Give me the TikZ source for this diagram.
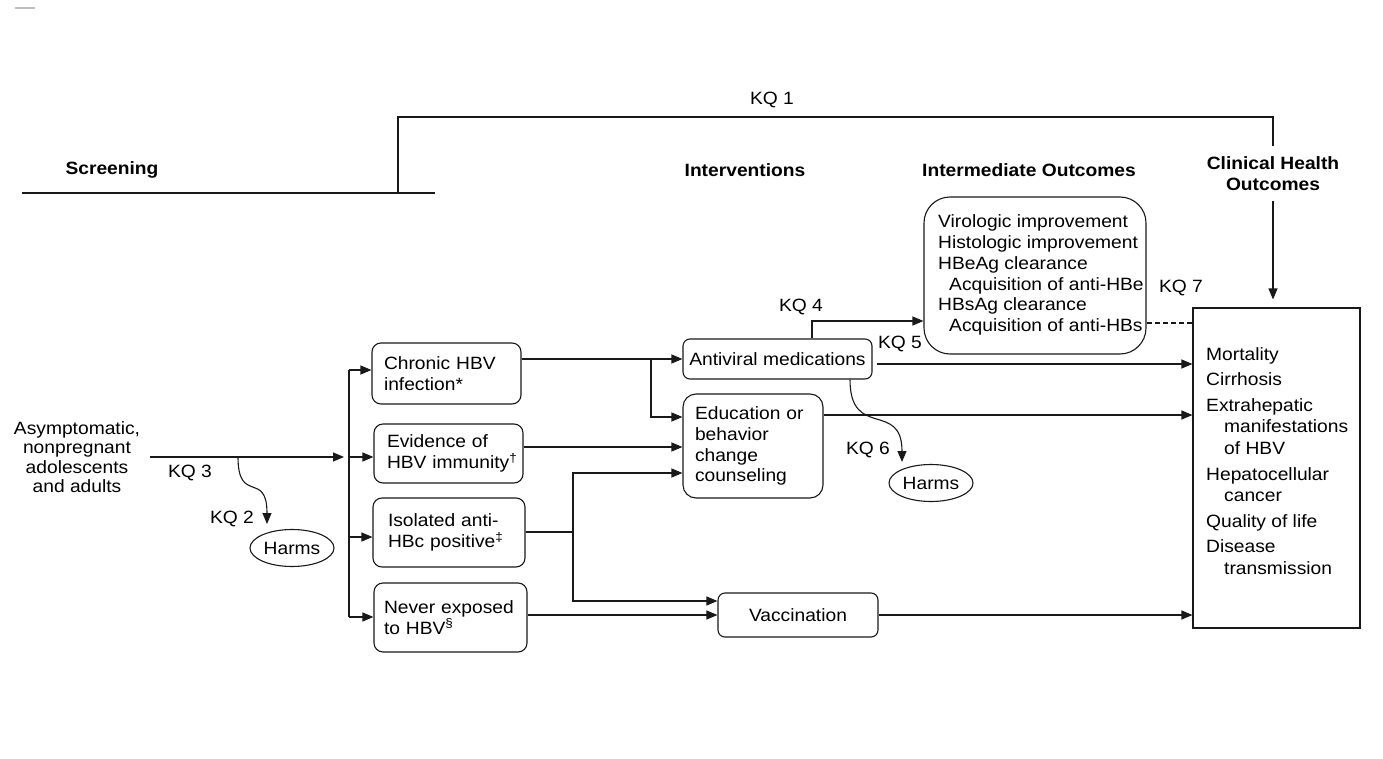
\documentclass[tikz,border=0pt]{standalone}
\usepackage{fontspec}
\setmainfont{Liberation Sans}[FakeStretch=1.08]
\usetikzlibrary{arrows.meta,shapes.geometric}
\begin{document}
\begin{tikzpicture}[x=1pt,y=-1pt,
  every node/.style={font=\fontsize{17.8}{20.8}\selectfont, text=black},
  ln/.style={line width=1.1pt, draw=black!90},
  arr/.style={ln, -{Triangle[length=11pt,width=9pt]}},
  rbox/.style={draw, ln, rounded corners=9pt, align=left, inner ysep=0pt},
  head/.style={font=\fontsize{17.8}{21}\selectfont\bfseries, inner sep=0pt},
  kq/.style={inner sep=0pt},
  ell/.style={draw, ln, ellipse, minimum width=84pt, minimum height=37pt, inner sep=0pt}
]
\useasboundingbox (0,0) rectangle (1383,759);
\draw[black!25, line width=1.5pt] (15,8) -- (35,8);

% headings
\node[head] (scr) at (112,170) {Screening};
\node[head] (intv) at (745,170) {Interventions};
\node[head] (intout) at (1029,170) {Intermediate Outcomes};
\node[head, align=center, inner ysep=10pt] (clinhead) at (1273,173.5) {Clinical Health\\Outcomes};

% population
\node[align=center, inner sep=0pt, font=\fontsize{17.8}{19.4}\selectfont] (pop) at (77,457) {Asymptomatic,\\nonpregnant\\adolescents\\and adults};

% screening result boxes
\node[rbox, minimum height=61pt, text width=125pt, inner xsep=12pt] (chronic) at (446.5,373.5) {Chronic HBV\\infection*};
\node[rbox, minimum height=59pt, text width=123pt, inner xsep=13pt] (evidence) at (448.5,453.5) {Evidence of\\HBV~immunity\textsuperscript{†}};
\node[rbox, minimum height=69pt, text width=122pt, inner xsep=15pt] (isolated) at (449,532.5) {Isolated anti-\\HBc~positive\textsuperscript{‡}};
\node[rbox, minimum height=69pt, text width=133pt, inner xsep=10pt] (never) at (450.5,617.5) {Never~exposed\\to HBV\textsuperscript{§}};

% interventions
\node[rbox, rounded corners=7pt, minimum width=189pt, minimum height=40pt, align=center, inner xsep=4pt] (antiviral) at (777.5,359) {Antiviral medications};
\node[rbox, rounded corners=13pt, minimum height=104pt, text width=116pt, inner xsep=12pt] (education) at (753,446) {Education or\\behavior\\change\\counseling};
\node[rbox, rounded corners=7pt, minimum width=160pt, minimum height=44pt, align=center] (vaccination) at (798,615) {Vaccination};

% intermediate outcomes
\node[draw, ln, rounded corners=26pt, minimum width=222pt, minimum height=157pt] (intermediate) at (1035,275.5) {};
\node[anchor=west, align=left, inner sep=0pt] (inttext) at (938,275) {Virologic improvement\\Histologic improvement\\HBeAg clearance\\\hspace*{11pt}Acquisition of anti-HBe\\HBsAg clearance\\\hspace*{11pt}Acquisition of anti-HBs};

% clinical outcomes
\node[draw, ln, minimum width=167pt, minimum height=320pt] (clinical) at (1276.5,468) {};
\node[anchor=west, align=left, inner sep=0pt, font=\fontsize{17.8}{21.6}\selectfont] (clintext) at (1206,461) {Mortality\\[4pt]Cirrhosis\\[4pt]Extrahepatic\\\hspace*{18pt}manifestations\\\hspace*{18pt}of HBV\\[4pt]Hepatocellular\\\hspace*{18pt}cancer\\[4pt]Quality of life\\[4pt]Disease\\\hspace*{18pt}transmission};

% harms
\node[ell] (harms1) at (292,548) {Harms};
\node[ell] (harms2) at (931,483) {Harms};

% KQ labels
\node[kq] (kq1) at (772,100) {KQ 1};
\node[kq] (kq2) at (232,519) {KQ 2};
\node[kq] (kq3) at (190,473) {KQ 3};
\node[kq] (kq4) at (801,307) {KQ 4};
\node[kq] (kq5) at (900,344) {KQ 5};
\node[kq] (kq6) at (868,450) {KQ 6};
\node[kq] (kq7) at (1181,288) {KQ 7};

% helper coordinates
\coordinate (sbl) at (22,193);
\coordinate (sbr) at (435,193);
\coordinate (sbj) at (398,193);
\coordinate (kqtl) at (398,117);
\coordinate (b1) at (349,370);
\coordinate (b2) at (349,457);
\coordinate (b3) at (349,537);
\coordinate (b4) at (349,617);
\coordinate (popout) at ([xshift=10pt]pop.east);
\coordinate (br) at (651,359);
\coordinate (e1) at (0,417);
\coordinate (e2) at (0,447);
\coordinate (e3) at (0,473);
\coordinate (iso) at (573,532);
\coordinate (v1) at (0,601);
\coordinate (v2) at (0,615);
\coordinate (x812) at (812,0);
\coordinate (x850) at (850,0);
\coordinate (i1) at (0,321);
\coordinate (c0) at (0,323);
\coordinate (c1) at (0,364);
\coordinate (c2) at (0,415);
\coordinate (avout) at ([xshift=4pt]antiviral.east);
\coordinate (kq2s) at (238,457);
\coordinate (kq2e) at (267,524);
\coordinate (kq6e) at (902,462);

% screening bar and KQ1
\draw[ln] (sbl) -- (sbr);
\draw[ln] (sbj) -- (kqtl) -| (clinhead.north);
\draw[arr, shorten >=8pt] (clinhead.south) -- (clinhead.south |- clinical.north);

% population to bus
\draw[arr, shorten >=5pt] (popout |- b2) -- (b2);
\draw[ln] (b1) -- (b4);
\draw[arr] (b1) -- (b1 -| chronic.west);
\draw[arr] (b2) -- (b2 -| evidence.west);
\draw[arr] (b3) -- (b3 -| isolated.west);
\draw[arr] (b4) -- (b4 -| never.west);

% KQ2 harms
\draw[arr] (kq2s) .. controls (238,505) and (267,470) .. (kq2e);

% to interventions
\draw[arr] (chronic.east |- antiviral.west) -- (antiviral.west);
\draw[arr] (br) |- (education.west |- e1);
\draw[arr] (evidence.east |- e2) -- (education.west |- e2);
\draw[ln] (isolated.east |- iso) -- (iso);
\draw[arr] (iso) |- (education.west |- e3);
\draw[arr] (iso) |- (vaccination.west |- v1);
\draw[arr] (never.east |- v2) -- (vaccination.west |- v2);

% to outcomes
\draw[arr] (antiviral.north -| x812) |- (intermediate.west |- i1);
\draw[arr] (avout |- c1) -- (clinical.west |- c1);
\draw[arr] (education.east |- c2) -- (clinical.west |- c2);
\draw[arr] (vaccination.east) -- (clinical.west |- vaccination.east);
\draw[ln, dash pattern=on 5pt off 3pt] (intermediate.east |- c0) -- (clinical.west |- c0);

% KQ6 harms
\draw[arr] (antiviral.south -| x850) .. controls (850,440) and (902,400) .. (kq6e);
\end{tikzpicture}
\end{document}
